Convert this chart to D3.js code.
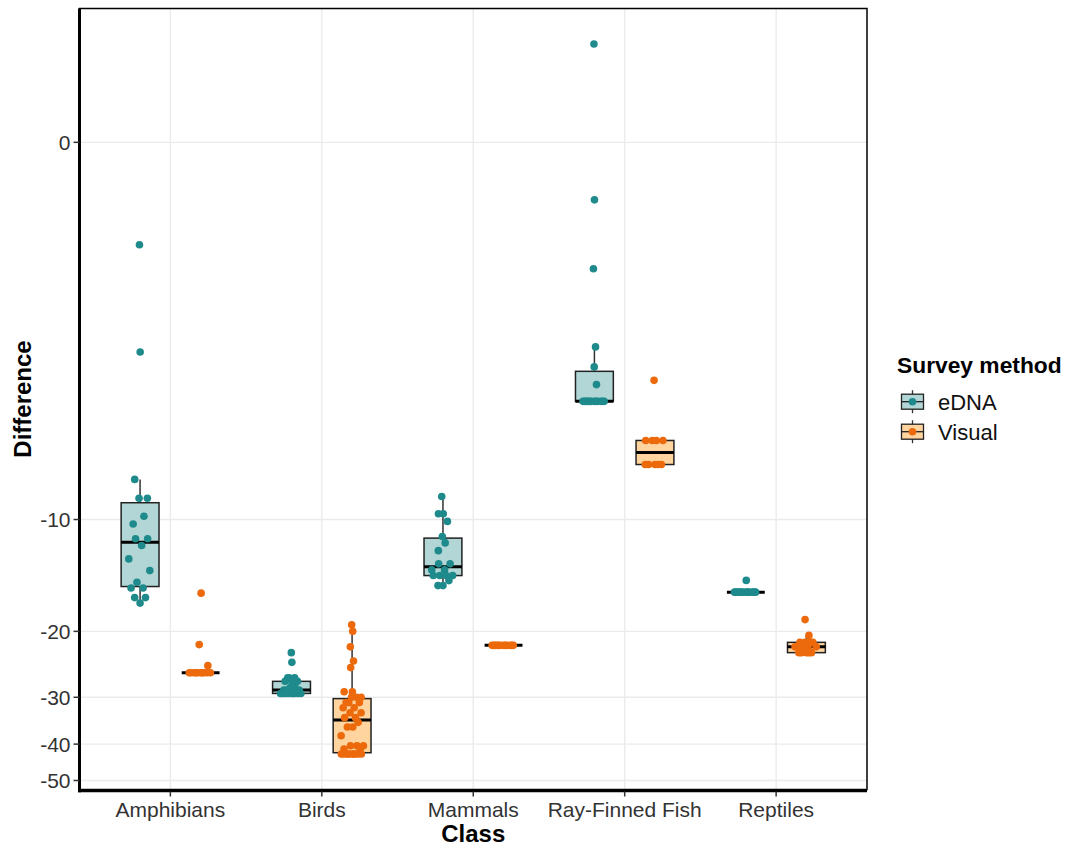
<!DOCTYPE html>
<html>
<head>
<meta charset="utf-8">
<script src="https://cdn.jsdelivr.net/npm/d3@7"></script>
<style>
  body { margin: 0; background: #fff; }
  svg { display: block; font-family: "Liberation Sans", Arial, sans-serif; }
</style>
</head>
<body>
<svg id="chart" width="1065" height="848"></svg>
<script>
// ---- data -------------------------------------------------------------
const classes = ["Amphibians", "Birds", "Mammals", "Ray-Finned Fish", "Reptiles"];
const methods = ["eDNA", "Visual"];
const yTicks = [0, -10, -20, -30, -40, -50];

const amphibiansEDNA = [-1.34, -3.34, -7.77, -8.75, -8.75, -9.8, -10.28, -11.28, -11.28, -11.76,
  -12.78, -13.74, -14.77, -15.3, -15.3, -16.24, -16.24, -16.8];
const amphibiansVisual = [-15.8, -21.7, -24.7, -25.8, -25.8, -25.8, -25.8, -25.8, -25.8, -25.8,
  -25.8, -25.8, -25.8];
const birdsEDNA = [-22.8, -24.2, -26.6, -26.6, -26.6, -27.2, -27.2, -27.2, -28.2, -28.2, -28.7,
  -28.7, -28.7, -29.3, -29.3, -29.3, -29.3, -29.3, -29.3, -29.3, -29.3, -29.3];
const birdsVisual = [-19.2, -20, -22, -24, -25, -29, -29, -30, -30, -30, -31, -31, -31, -32, -32,
  -33, -33, -34, -34, -35, -36, -36, -38, -40.4, -40.4, -40.4, -41.2, -41.2,
  -42.5, -42.5, -42.5, -42.5, -42.5, -42.5, -42.5, -42.5, -42.5, -42.5];
const mammalsEDNA = [-8.66, -9.65, -9.65, -10.12, -11.12, -11.57, -12.14, -13.18, -13.18, -13.68,
  -13.68, -14.17, -14.17, -14.17, -14.17, -14.62, -15.08, -15.08];
const mammalsVisual = [-21.8, -21.8, -21.8, -21.8, -21.8, -21.8, -21.8, -21.8, -21.8, -21.8,
  -21.8, -21.8];
const fishEDNA = [1.28, -0.72, -1.71, -3.22, -3.71, -4.19, -4.69, -4.69, -4.69, -4.69, -4.69,
  -4.69, -4.69, -4.69, -4.69, -4.69, -4.69, -4.69];
const fishVisual = [-4.07, -6.06, -6.06, -6.06, -6.06, -7.07, -7.07, -7.07, -7.07, -7.07];
const reptilesEDNA = [-14.6, -15.7, -15.7, -15.7, -15.7, -15.7, -15.7, -15.7, -15.7, -15.7,
  -15.7, -15.7, -15.7];
const reptilesVisual = [-18.6, -20.5, -21.4, -21.4, -21.4, -21.4, -22, -22, -22, -22, -22,
  -22.8, -22.8, -22.8, -22.8, -22.8];

const groups = [
  { cls: "Amphibians", method: "eDNA", values: amphibiansEDNA },
  { cls: "Amphibians", method: "Visual", values: amphibiansVisual },
  { cls: "Birds", method: "eDNA", values: birdsEDNA },
  { cls: "Birds", method: "Visual", values: birdsVisual },
  { cls: "Mammals", method: "eDNA", values: mammalsEDNA },
  { cls: "Mammals", method: "Visual", values: mammalsVisual },
  { cls: "Ray-Finned Fish", method: "eDNA", values: fishEDNA },
  { cls: "Ray-Finned Fish", method: "Visual", values: fishVisual },
  { cls: "Reptiles", method: "eDNA", values: reptilesEDNA },
  { cls: "Reptiles", method: "Visual", values: reptilesVisual }
];

const pointColor = { eDNA: "#1F8A8B", Visual: "#EC6A0C" };
const boxFill = { eDNA: "#B2D6D6", Visual: "#FFD49E" };

// ---- layout -------------------------------------------------------------
const panel = { left: 79.5, right: 867, top: 8.5, bottom: 789.5 };
const svg = d3.select("#chart");

// pseudo-log transform (asinh(v / 2)); stats and layout happen on this scale
const tr = v => Math.asinh(v / 2);
const allT = groups.flatMap(g => g.values.map(tr));
const [tMin, tMax] = d3.extent(allT);
const tPad = (tMax - tMin) * 0.05;
const yT = d3.scaleLinear().domain([tMin - tPad, tMax + tPad]).range([panel.bottom, panel.top]);
const y = v => yT(tr(v));

const x = d3.scalePoint().domain(classes).range([panel.left, panel.right]).padding(0.6);
const step = x.step();
const dodge = d3.scaleOrdinal().domain(methods).range([-0.2 * step, 0.2 * step]);
const boxHalf = 0.125 * step;
const swarmHalf = 13;
const r = 3.8;

// ---- grid ---------------------------------------------------------------
const grid = svg.append("g");
grid.selectAll("line.h").data(yTicks).join("line")
  .attr("x1", panel.left).attr("x2", panel.right)
  .attr("y1", d => y(d)).attr("y2", d => y(d))
  .attr("stroke", "#EBEBEB").attr("stroke-width", 1.4);
grid.selectAll("line.v").data(classes).join("line")
  .attr("y1", panel.top).attr("y2", panel.bottom)
  .attr("x1", d => x(d)).attr("x2", d => x(d))
  .attr("stroke", "#EBEBEB").attr("stroke-width", 1.4);

// ---- box statistics (R type-7 quantiles on the transformed scale) ------
function boxStats(vals) {
  const t = vals.map(tr).sort(d3.ascending);
  const q1 = d3.quantileSorted(t, 0.25), med = d3.quantileSorted(t, 0.5), q3 = d3.quantileSorted(t, 0.75);
  const iqr = q3 - q1;
  const lo = q1 - 1.5 * iqr, hi = q3 + 1.5 * iqr;
  const inside = t.filter(d => d >= lo && d <= hi);
  return { q1, med, q3, wLo: d3.min(inside), wHi: d3.max(inside) };
}

// ---- quasirandom offsets (van der Corput sequence scaled by density) ----
function vanDerCorput(n) {
  const out = [];
  for (let i = 1; i <= n; i++) {
    let k = i, f = 0.5, v = 0;
    while (k > 0) { v += f * (k % 2); k = Math.floor(k / 2); f /= 2; }
    out.push(v);
  }
  return out;
}
function bwNrd0(t) {
  const s = d3.sort(t);
  const sd = d3.deviation(t) || 0;
  const iqr = d3.quantileSorted(s, 0.75) - d3.quantileSorted(s, 0.25);
  let lo = Math.min(sd, iqr / 1.34);
  if (!lo) lo = sd || Math.abs(t[0]) || 1;
  return 0.9 * lo * Math.pow(t.length, -0.2);
}
function quasiOffsets(vals) {
  const t = vals.map(tr);
  const n = t.length;
  if (n < 2) return [0];
  const bw = bwNrd0(t);
  const kde = v => d3.sum(t, d => Math.exp(-0.5 * ((v - d) / bw) ** 2));
  const [a, b] = d3.extent(t);
  let maxD = 0;
  for (let i = 0; i < 512; i++) maxD = Math.max(maxD, kde(a - 3 * bw + (b - a + 6 * bw) * i / 511));
  const order = d3.range(n).sort((i, j) => (t[i] - t[j]) || (i - j));
  const rank = new Array(n);
  order.forEach((idx, k) => { rank[idx] = k; });
  const vdc = vanDerCorput(n);
  return t.map((d, i) => (vdc[rank[i]] - 0.5) * 2 * swarmHalf * kde(d) / maxD);
}

// ---- boxes ------------------------------------------------------------
const boxes = svg.append("g");
groups.forEach(g => {
  const s = boxStats(g.values);
  const cx = x(g.cls) + dodge(g.method);
  const gb = boxes.append("g");
  gb.append("line").attr("x1", cx).attr("x2", cx).attr("y1", yT(s.q3)).attr("y2", yT(s.wHi))
    .attr("stroke", "#333").attr("stroke-width", 1.5);
  gb.append("line").attr("x1", cx).attr("x2", cx).attr("y1", yT(s.q1)).attr("y2", yT(s.wLo))
    .attr("stroke", "#333").attr("stroke-width", 1.5);
  gb.append("rect").attr("x", cx - boxHalf).attr("width", 2 * boxHalf)
    .attr("y", yT(s.q3)).attr("height", Math.max(0, yT(s.q1) - yT(s.q3)))
    .attr("fill", boxFill[g.method]).attr("stroke", "#222").attr("stroke-width", 1.5);
  gb.append("line").attr("x1", cx - boxHalf).attr("x2", cx + boxHalf)
    .attr("y1", yT(s.med)).attr("y2", yT(s.med))
    .attr("stroke", "#000").attr("stroke-width", 3);
});

// ---- points -------------------------------------------------------------
const pts = svg.append("g");
groups.forEach(g => {
  const off = quasiOffsets(g.values);
  const cx = x(g.cls) + dodge(g.method);
  pts.selectAll(null).data(g.values.map((v, i) => ({ v, dx: off[i] }))).join("circle")
    .attr("cx", d => cx + d.dx).attr("cy", d => y(d.v)).attr("r", r)
    .attr("fill", pointColor[g.method]);
});

// ---- panel frame and axes -------------------------------------------------
svg.append("rect").attr("x", panel.left).attr("y", panel.top)
  .attr("width", panel.right - panel.left).attr("height", panel.bottom - panel.top)
  .attr("fill", "none").attr("stroke", "#000").attr("stroke-width", 1.5);
svg.append("line").attr("x1", panel.left).attr("x2", panel.left)
  .attr("y1", panel.top).attr("y2", panel.bottom + 2.7).attr("stroke", "#000").attr("stroke-width", 3);
svg.append("line").attr("x1", panel.left - 1.5).attr("x2", panel.right)
  .attr("y1", panel.bottom + 1.2).attr("y2", panel.bottom + 1.2).attr("stroke", "#000").attr("stroke-width", 3);

const yAxis = svg.append("g");
yAxis.selectAll("line").data(yTicks).join("line")
  .attr("x1", panel.left - 6).attr("x2", panel.left)
  .attr("y1", d => y(d)).attr("y2", d => y(d)).attr("stroke", "#333").attr("stroke-width", 1.5);
yAxis.selectAll("text").data(yTicks).join("text")
  .attr("x", panel.left - 9).attr("y", d => y(d)).attr("dy", "0.36em")
  .attr("text-anchor", "end").attr("font-size", 21).attr("fill", "#333")
  .text(d => d);

const xAxis = svg.append("g");
xAxis.selectAll("line").data(classes).join("line")
  .attr("x1", d => x(d)).attr("x2", d => x(d))
  .attr("y1", panel.bottom + 2).attr("y2", panel.bottom + 7).attr("stroke", "#333").attr("stroke-width", 1.5);
xAxis.selectAll("text").data(classes).join("text")
  .attr("x", d => x(d)).attr("y", 817)
  .attr("text-anchor", "middle").attr("font-size", 21).attr("fill", "#333")
  .text(d => d);

svg.append("text").attr("x", (panel.left + panel.right) / 2).attr("y", 842)
  .attr("text-anchor", "middle").attr("font-size", 24).attr("font-weight", "bold")
  .text("Class");
svg.append("text").attr("transform", `translate(31,${(panel.top + panel.bottom) / 2}) rotate(-90)`)
  .attr("text-anchor", "middle").attr("font-size", 24).attr("font-weight", "bold")
  .text("Difference");

// ---- legend ---------------------------------------------------------------
const legend = svg.append("g").attr("transform", "translate(897,0)");
legend.append("text").attr("x", 0).attr("y", 373).attr("font-size", 22.8).attr("font-weight", "bold")
  .text("Survey method");
methods.forEach((m, i) => {
  const cy = 401.7 + i * 30;
  const k = legend.append("g");
  k.append("line").attr("x1", 15.5).attr("x2", 15.5).attr("y1", cy - 11.5).attr("y2", cy + 11.5)
    .attr("stroke", "#333").attr("stroke-width", 1.3);
  k.append("rect").attr("x", 4.5).attr("y", cy - 7.5).attr("width", 22).attr("height", 15)
    .attr("fill", boxFill[m]).attr("stroke", "#222").attr("stroke-width", 1.3);
  k.append("line").attr("x1", 4.5).attr("x2", 26.5).attr("y1", cy).attr("y2", cy)
    .attr("stroke", "#222").attr("stroke-width", 1.3);
  k.append("circle").attr("cx", 15.5).attr("cy", cy).attr("r", r).attr("fill", pointColor[m]);
  legend.append("text").attr("x", 41).attr("y", cy + 8).attr("font-size", 22).attr("fill", "#111")
    .text(m);
});
</script>
</body>
</html>
